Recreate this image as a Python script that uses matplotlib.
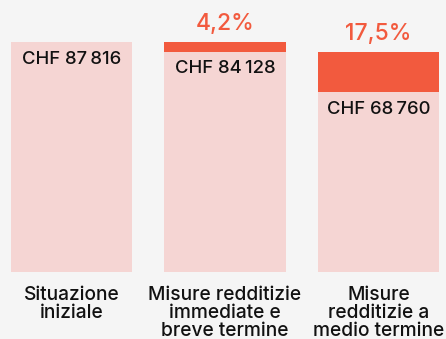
import matplotlib.pyplot as plt

# Dati del grafico
categorie = ['Situazione\niniziale',
             'Misure redditizie\nimmediate e\nbreve termine',
             'Misure\nredditizie a\nmedio termine']
valori = [87816, 84128, 68760]
riduzioni = [0, 3688, 15368]
etichette_valori = ['CHF 87\u202f816', 'CHF 84\u202f128', 'CHF 68\u202f760']
etichette_perc = ['', '4,2%', '17,5%']

ROSA = '#f5d5d3'
ROSSO = '#f25a3e'
SFONDO = '#f5f5f5'
FONT = ['Inter', 'DejaVu Sans']

plt.rcParams['font.family'] = FONT

fig = plt.figure(figsize=(4.46, 3.39), dpi=100, facecolor=SFONDO)
# asse: da y=271.7 px (base) fino al bordo superiore
ax = fig.add_axes([0, 67.3 / 339, 1, 271.7 / 339])
ax.set_facecolor(SFONDO)

scala = 87816 / 229.5  # CHF per pixel
ax.set_ylim(0, 271.7 * scala)
passo = 153.5
ax.set_xlim(-71.5 / passo, (446 - 71.5) / passo)
larghezza = 121 / passo

x = list(range(len(categorie)))
ax.bar(x, valori, width=larghezza, color=ROSA, linewidth=0)
ax.bar(x, riduzioni, bottom=valori, width=larghezza, color=ROSSO, linewidth=0)

for i in x:
    ax.annotate(etichette_valori[i], (i, valori[i]), xytext=(0, -17),
                textcoords='offset pixels', ha='center', va='center',
                fontsize=13.3, fontweight=500, color='#111111')
    if etichette_perc[i]:
        ax.annotate(etichette_perc[i], (i, valori[i] + riduzioni[i]),
                    xytext=(0, 18), textcoords='offset pixels',
                    ha='center', va='center', fontsize=16.5, fontweight=500,
                    color=ROSSO)
    ax.annotate(categorie[i], (i, 0), xytext=(0, -14),
                textcoords='offset pixels', ha='center', va='top',
                fontsize=13.8, fontweight=500, color='#111111',
                linespacing=1.0)

ax.set_axis_off()
fig.savefig('out.png', dpi=100, facecolor=SFONDO)
